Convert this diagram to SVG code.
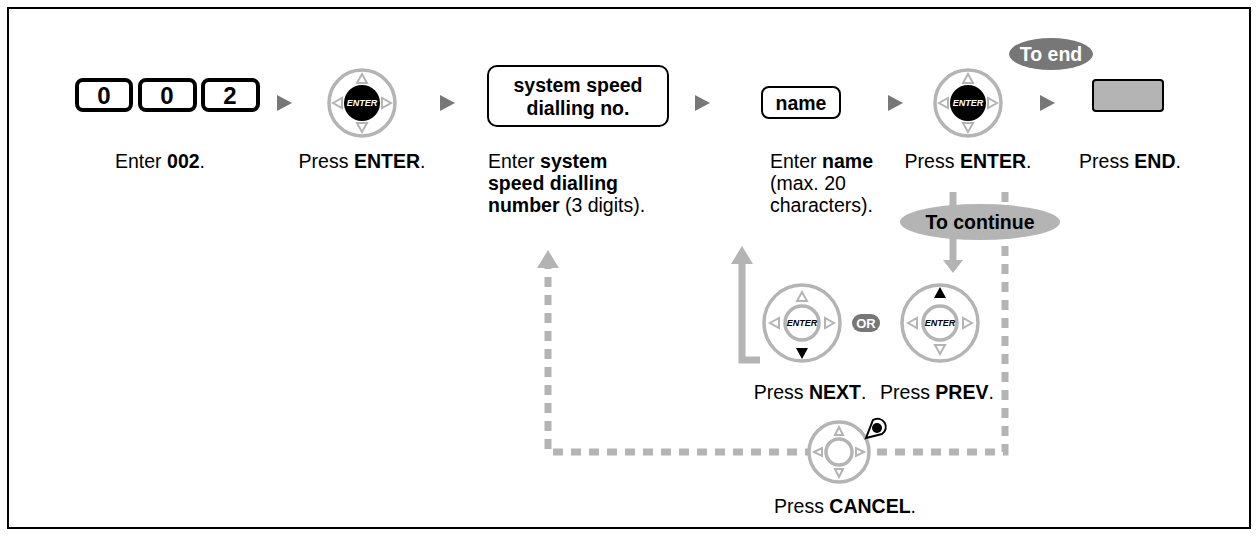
<svg xmlns="http://www.w3.org/2000/svg" width="1259" height="537" viewBox="0 0 1259 537">
<defs>
<style>
text{font-family:"Liberation Sans",Arial,sans-serif;font-size:19.5px;fill:#000}
.b{font-weight:bold}
.key{fill:#fff;stroke:#000;stroke-width:4}
.ring{fill:#fff;stroke:#b4b4b4;stroke-width:3.5}
.tri{fill:#fff;stroke:#b4b4b4;stroke-width:2}
.step{fill:#777}
.g{stroke:#b4b4b4;stroke-width:7;fill:none}
.d{stroke:#b4b4b4;stroke-width:7;fill:none;stroke-dasharray:10 8}
text.et{font-size:9px;font-style:italic;font-weight:bold;fill:#fff}
text.et2{font-size:9px;font-style:italic;font-weight:bold;fill:#000}
text.k{font-size:24px;font-weight:bold}
text.w{fill:#fff;font-weight:bold}
</style>
<g id="dialbase">
<circle r="33" class="ring"/>
<path d="M0,-29 l-5,9 h10z M0,29 l-5,-9 h10z M-29,0 l9,-5 v10z M29,0 l-9,-5 v10z" class="tri"/>
</g>
</defs>
<rect x="8" y="8" width="1242" height="520" fill="#fff" stroke="#000" stroke-width="2"/>
<g id="connectors">
<path class="step" d="M277,95 l15,8 l-15,8z M440,95 l15,8 l-15,8z M695,95 l15,8 l-15,8z M888,95 l15,8 l-15,8z M1040,95 l15,8 l-15,8z"/>
<path class="g" d="M953,192 V262"/>
<path d="M943,260 h20 l-10,13z" fill="#b4b4b4"/>
<path class="d" d="M1005,192 V452 H548 V268"/>
<path d="M537,268 h22 l-11,-18z" fill="#b4b4b4"/>
<path class="g" d="M742,262 V360 H760"/>
<path d="M731,264 h22 l-11,-18z" fill="#b4b4b4"/>
</g>
<g id="keys">
<rect x="77" y="80" width="54" height="30" rx="6" class="key"/>
<rect x="140" y="80" width="55" height="30" rx="6" class="key"/>
<rect x="203" y="80" width="55" height="30" rx="6" class="key"/>
<text x="104" y="104" class="k" text-anchor="middle">0</text>
<text x="167" y="104" class="k" text-anchor="middle">0</text>
<text x="230" y="104" class="k" text-anchor="middle">2</text>
<text x="160" y="168" text-anchor="middle">Enter <tspan class="b">002</tspan>.</text>
</g>
<g id="enter1">
<use href="#dialbase" x="362" y="103"/>
<circle cx="362" cy="103" r="18" fill="#000"/>
<text x="362" y="106" class="et" text-anchor="middle">ENTER</text>
<text x="362" y="168" text-anchor="middle">Press <tspan class="b">ENTER</tspan>.</text>
</g>
<g id="speed">
<rect x="488" y="66" width="180" height="60" rx="9" fill="#fff" stroke="#000" stroke-width="2"/>
<text x="578" y="92" class="b" text-anchor="middle">system speed</text>
<text x="578" y="115" class="b" text-anchor="middle">dialling no.</text>
<text x="488" y="168">Enter <tspan class="b">system</tspan></text>
<text x="488" y="190" class="b">speed dialling</text>
<text x="488" y="212"><tspan class="b">number</tspan> (3 digits).</text>
</g>
<g id="name">
<rect x="762" y="87" width="78" height="31" rx="7" fill="#fff" stroke="#000" stroke-width="2"/>
<text x="801" y="110" class="b" text-anchor="middle">name</text>
<text x="770" y="168">Enter <tspan class="b">name</tspan></text>
<text x="770" y="190">(max. 20</text>
<text x="770" y="212">characters).</text>
</g>
<g id="enter2">
<use href="#dialbase" x="968" y="103"/>
<circle cx="968" cy="103" r="18" fill="#000"/>
<text x="968" y="106" class="et" text-anchor="middle">ENTER</text>
<text x="968" y="168" text-anchor="middle">Press <tspan class="b">ENTER</tspan>.</text>
</g>
<g id="toend">
<ellipse cx="1051" cy="54" rx="42" ry="16" fill="#777"/>
<text x="1051" y="61" class="w" text-anchor="middle">To end</text>
</g>
<g id="end">
<rect x="1093" y="80" width="70" height="31" rx="3" fill="#b4b4b4" stroke="#000" stroke-width="2"/>
<text x="1130" y="168" text-anchor="middle">Press <tspan class="b">END</tspan>.</text>
</g>
<g id="tocontinue">
<ellipse cx="980" cy="222" rx="80" ry="18" fill="#b4b4b4"/>
<text x="980" y="229" class="b" text-anchor="middle">To continue</text>
</g>
<g id="next">
<circle cx="802" cy="323" r="38" class="ring"/>
<circle cx="802" cy="323" r="17" class="ring" stroke-width="2.5"/>
<path d="M802,292 l-5,9 h10z M770,323 l9,-5 v10z M834,323 l-9,-5 v10z" class="tri"/>
<path d="M796,348 h12 l-6,11z" fill="#000"/>
<text x="802" y="326" class="et2" text-anchor="middle">ENTER</text>
<text x="810" y="399" text-anchor="middle">Press <tspan class="b">NEXT</tspan>.</text>
</g>
<g id="or">
<rect x="852" y="314" width="28" height="18" rx="9" fill="#777"/>
<text x="866" y="328" class="w" style="font-size:13px" text-anchor="middle">OR</text>
</g>
<g id="prev">
<circle cx="940" cy="323" r="38" class="ring"/>
<circle cx="940" cy="323" r="17" class="ring" stroke-width="2.5"/>
<path d="M940,354 l-5,-9 h10z M908,323 l9,-5 v10z M972,323 l-9,-5 v10z" class="tri"/>
<path d="M934,298 h12 l-6,-11z" fill="#000"/>
<text x="940" y="326" class="et2" text-anchor="middle">ENTER</text>
<text x="937" y="399" text-anchor="middle">Press <tspan class="b">PREV</tspan>.</text>
</g>
<g id="cancel">
<circle cx="839" cy="452" r="30" class="ring"/>
<circle cx="839" cy="452" r="13" class="ring" stroke-width="2.5"/>
<path d="M839,427 l-4,8 h8z M839,477 l-4,-8 h8z M814,452 l8,-4 v8z M864,452 l-8,-4 v8z" class="tri"/>
<path d="M866,438 L873,420 A8,8 0 1 1 882,434 Z" fill="#fff" stroke="#000" stroke-width="2"/>
<circle cx="877" cy="428" r="5" fill="#000"/>
<text x="845" y="513" text-anchor="middle">Press <tspan class="b">CANCEL</tspan>.</text>
</g>
</svg>
